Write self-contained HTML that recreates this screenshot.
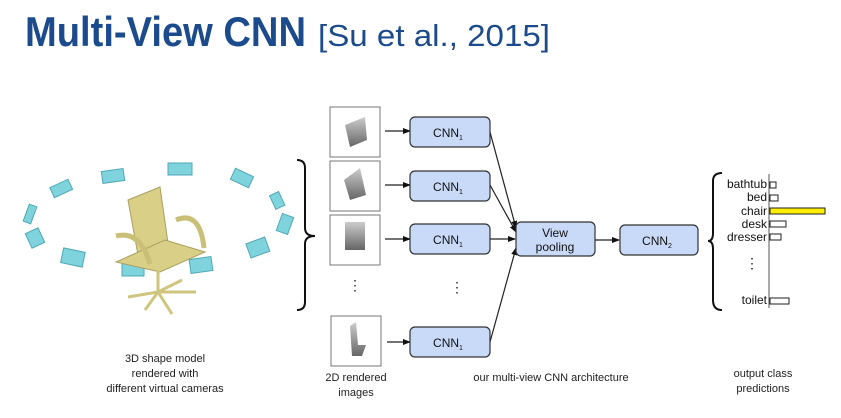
<!DOCTYPE html>
<html><head><meta charset="utf-8"><style>
html,body{margin:0;padding:0;background:#fff;width:841px;height:418px;overflow:hidden}
svg{display:block}
</style></head><body>
<svg width="841" height="418" viewBox="0 0 841 418" xmlns="http://www.w3.org/2000/svg" font-family="Liberation Sans, sans-serif">
<defs>
<marker id="a" markerWidth="8" markerHeight="8" refX="7" refY="4" orient="auto" markerUnits="userSpaceOnUse"><path d="M0,1 L8,4 L0,7 z" fill="#111"/></marker>
<linearGradient id="g" x1="0" y1="0" x2="0" y2="1"><stop offset="0" stop-color="#ccc"/><stop offset="1" stop-color="#666"/></linearGradient>
</defs>
<text x="25" y="46" font-size="42" font-weight="bold" fill="#1b4b8c" textLength="281" lengthAdjust="spacingAndGlyphs">Multi-View CNN</text>
<text x="318" y="46" font-size="31" fill="#1b4b8c" textLength="232" lengthAdjust="spacingAndGlyphs">[Su et al., 2015]</text>

<!-- cameras -->
<g fill="#7fd3dc" stroke="#4fa9b5" stroke-width="1">
<rect x="102" y="170" width="22" height="12" transform="rotate(-8 113 176)"/>
<rect x="168" y="163" width="24" height="12"/>
<rect x="232" y="172" width="20" height="12" transform="rotate(25 242 178)"/>
<rect x="272" y="193" width="10" height="15" transform="rotate(-25 277 200)"/>
<rect x="279" y="215" width="12" height="18" transform="rotate(20 285 224)"/>
<rect x="248" y="240" width="20" height="15" transform="rotate(-20 258 248)"/>
<rect x="51" y="183" width="20" height="11" transform="rotate(-25 61 188)"/>
<rect x="26" y="205" width="8" height="18" transform="rotate(20 30 214)"/>
<rect x="28" y="230" width="14" height="16" transform="rotate(-25 35 238)"/>
<rect x="62" y="250" width="22" height="15" transform="rotate(12 73 257)"/>
<rect x="122" y="262" width="22" height="14"/>
<rect x="190" y="258" width="22" height="14" transform="rotate(-8 201 265)"/>
</g>
<!-- chair -->
<g fill="#d9cf86" stroke="#a8a060" stroke-width="1">
<path d="M128 200 L160 187 L168 243 L138 255 Z"/>
<path d="M116 262 L165 240 L205 252 L160 272 Z"/>
<path d="M176 220 Q200 210 204 248" fill="none" stroke="#c9bf76" stroke-width="5"/>
<path d="M116 236 Q140 230 150 264" fill="none" stroke="#c9bf76" stroke-width="5"/>
<path d="M158 270 L158 292 M158 292 L128 297 M158 292 L145 310 M158 292 L172 314 M158 292 L196 292 M158 292 L182 280" fill="none" stroke="#cfc57e" stroke-width="3"/>
</g>
<text font-size="11" fill="#222" text-anchor="middle"><tspan x="165" y="362">3D shape model</tspan><tspan x="165" y="377">rendered with</tspan><tspan x="165" y="392">different virtual cameras</tspan></text>

<!-- left brace -->
<path d="M297 160 Q305 160 305 168 L305 228 Q305 236 315 236 Q305 236 305 244 L305 302 Q305 310 297 310" fill="none" stroke="#111" stroke-width="2"/>

<!-- images -->
<g fill="#fff" stroke="#777" stroke-width="1">
<rect x="330" y="107" width="50" height="50"/>
<rect x="330" y="161" width="50" height="50"/>
<rect x="330" y="215" width="50" height="50"/>
<rect x="331" y="316" width="50" height="50"/>
</g>
<g fill="url(#g)">
<path d="M345 125 L365 117 L367 140 L350 147 Z"/>
<path d="M344 180 L360 168 L366 195 L350 200 Z"/>
<rect x="345" y="222" width="20" height="28"/>
<path d="M350 326 L356 322 L358 345 L366 345 L362 356 L352 356 Z"/>
</g>
<text font-size="14" fill="#222" text-anchor="middle"><tspan x="355" y="290">⋮</tspan><tspan x="457" y="292">⋮</tspan><tspan x="752" y="268">⋮</tspan></text>

<!-- CNN1 -->
<g stroke="#222" stroke-width="1.2" fill="none" marker-end="url(#a)">
<line x1="385" y1="131" x2="410" y2="131"/>
<line x1="385" y1="185" x2="410" y2="185"/>
<line x1="385" y1="239" x2="410" y2="239"/>
<line x1="387" y1="342" x2="410" y2="342"/>
<line x1="490" y1="132" x2="516" y2="228"/>
<line x1="490" y1="185" x2="516" y2="232"/>
<line x1="490" y1="239" x2="515" y2="239"/>
<line x1="490" y1="342" x2="516" y2="248"/>
<line x1="595" y1="240" x2="619" y2="240"/>
</g>
<g fill="#c9daf8" stroke="#333" stroke-width="1.2">
<rect x="410" y="117" width="80" height="30" rx="5"/>
<rect x="410" y="171" width="80" height="30" rx="5"/>
<rect x="410" y="224" width="80" height="30" rx="5"/>
<rect x="410" y="327" width="80" height="30" rx="5"/>
<rect x="516" y="222" width="79" height="34" rx="5"/>
<rect x="620" y="225" width="78" height="30" rx="5"/>
</g>
<g font-size="12" fill="#111" text-anchor="middle">
<text x="448" y="137">CNN<tspan font-size="7" dy="3">1</tspan></text>
<text x="448" y="191">CNN<tspan font-size="7" dy="3">1</tspan></text>
<text x="448" y="244">CNN<tspan font-size="7" dy="3">1</tspan></text>
<text x="448" y="347">CNN<tspan font-size="7" dy="3">1</tspan></text>
<text x="555" y="237">View</text>
<text x="555" y="251">pooling</text>
<text x="657" y="245">CNN<tspan font-size="7" dy="3">2</tspan></text>
</g>
<text font-size="11" fill="#222" text-anchor="middle"><tspan x="356" y="381">2D rendered</tspan><tspan x="356" y="396">images</tspan><tspan x="551" y="381">our multi-view CNN architecture</tspan><tspan x="763" y="377">output class</tspan><tspan x="763" y="392">predictions</tspan></text>

<!-- right brace -->
<path d="M722 173 Q713 173 713 181 L713 233 Q713 241 708 241 Q713 241 713 249 L713 300 Q713 310 722 310" fill="none" stroke="#111" stroke-width="2"/>
<line x1="769" y1="174" x2="769" y2="308" stroke="#555" stroke-width="1"/>
<g font-size="12" fill="#111" text-anchor="end">
<text x="767" y="188">bathtub</text>
<text x="767" y="201">bed</text>
<text x="767" y="215">chair</text>
<text x="767" y="228">desk</text>
<text x="767" y="241">dresser</text>
<text x="767" y="304">toilet</text>
</g>
<g fill="#fff" stroke="#222" stroke-width="1">
<rect x="770" y="182" width="6" height="6"/>
<rect x="770" y="195" width="8" height="6"/>
<rect x="770" y="208" width="55" height="6" fill="#ffee00"/>
<rect x="770" y="221" width="16" height="6"/>
<rect x="770" y="234" width="11" height="6"/>
<rect x="770" y="298" width="19" height="6"/>
</g>
</svg>
</body></html>
